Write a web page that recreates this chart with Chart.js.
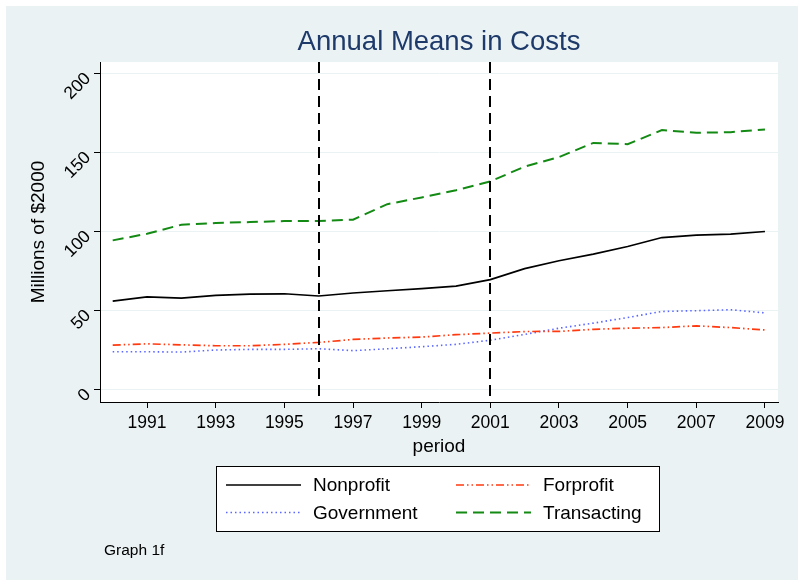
<!DOCTYPE html>
<html>
<head>
<meta charset="utf-8">
<script src="https://cdn.jsdelivr.net/npm/chart.js@4.4.0/dist/chart.umd.min.js"></script>
<style>
html,body{margin:0;padding:0;background:#fff;}
#wrap{width:798px;height:580px;}
</style>
</head>
<body>
<div id="wrap"><canvas id="c" width="798" height="580"></canvas></div>
<script>
/* ---------- data ---------- */
const years = [1990,1991,1992,1993,1994,1995,1996,1997,1998,1999,2000,2001,2002,2003,2004,2005,2006,2007,2008,2009];
const nonprofit   = [55.7,58.3,57.6,59.3,60.1,60.3,58.9,60.8,62.2,63.6,65.2,69.3,76.2,81.2,85.4,90.2,95.9,97.4,98.0,99.7];
const forprofit   = [27.8,28.6,28.0,27.4,27.4,28.3,29.5,31.4,32.3,32.9,34.4,35.4,36.4,36.5,37.8,38.5,38.9,40.0,38.9,37.4];
const government  = [23.6,23.6,23.4,24.7,25.1,25.1,25.5,24.3,25.5,26.8,28.3,30.9,34.6,38.5,41.7,45.3,49.1,49.6,50.2,48.2];
const transacting = [94.1,98.3,104.0,105.1,105.7,106.3,106.3,107.2,117.0,121.3,125.8,131.4,140.8,146.8,155.8,155.0,163.9,162.2,162.6,164.3];
const seriesNames = ["Nonprofit","Forprofit","Government","Transacting"];
const xTicks = [1991,1993,1995,1997,1999,2001,2003,2005,2007,2009];
const yTicks = [0,50,100,150,200];
const refYears = [1996,2001];

const FONT = '"Liberation Sans", Arial, Helvetica, sans-serif';
const pts = arr => arr.map((v,i)=>({x:years[i],y:v}));

/* ---------- plugins ---------- */
// stata-ish background: light outer region, white plot region
const bgPlugin = {
    id:"bg",
    beforeDraw(chart){
        const {ctx,chartArea:a} = chart;
        ctx.save();
        ctx.fillStyle="#fff";ctx.fillRect(0,0,chart.width,chart.height);
        ctx.fillStyle="#eaf2f3";ctx.fillRect(6,6,chart.width-6,chart.height-6);
        ctx.fillStyle="#fff";ctx.fillRect(a.left,a.top,a.right-a.left,a.bottom-a.top);
        ctx.restore();
    }
};
// dashed vertical lines at the reference years
const refLines = {
    id:"refLines",
    afterDatasetsDraw(chart){
        const {ctx,chartArea:a,scales:{x}} = chart;
        ctx.save();
        ctx.strokeStyle="#000";ctx.lineWidth=2;ctx.setLineDash([11,6]);
        refYears.forEach(yr=>{
            const px=Math.round(x.getPixelForValue(yr));
            ctx.beginPath();ctx.moveTo(px,a.top);ctx.lineTo(px,a.bottom);ctx.stroke();
        });
        ctx.restore();
    }
};
// boxed two-column legend + note under the plot
const boxLegend = {
    id:"boxLegend",
    afterDraw(chart){
        const ctx=chart.ctx;
        ctx.save();
        ctx.fillStyle="#fff";ctx.fillRect(216.5,466.5,443,65);
        ctx.strokeStyle="#000";ctx.lineWidth=1;ctx.strokeRect(216.5,466.5,443,65);
        ctx.font="19px "+FONT;ctx.textBaseline="middle";ctx.textAlign="left";
        chart.data.datasets.forEach((ds,i)=>{
            const col=i%2,row=Math.floor(i/2);
            const x0=col?456:226, y=row?512.5:485;
            ctx.strokeStyle=ds.borderColor;ctx.lineWidth=ds.borderWidth;
            ctx.setLineDash(ds.borderDash||[]);
            ctx.beginPath();ctx.moveTo(x0,y);ctx.lineTo(x0+75,y);ctx.stroke();
            ctx.fillStyle="#000";ctx.fillText(ds.label,x0+87,y+1);
        });
        ctx.setLineDash([]);
        ctx.font="15.5px "+FONT;ctx.fillText("Graph 1f",104,551);
        ctx.restore();
    }
};

/* ---------- chart ---------- */
new Chart(document.getElementById("c"),{
    type:"line",
    data:{datasets:[
        {label:seriesNames[0],data:pts(nonprofit),borderColor:"#000",borderWidth:1.7},
        {label:seriesNames[1],data:pts(forprofit),borderColor:"#ff3a10",borderWidth:1.7,borderDash:[8,3,1.5,3,1.5,3]},
        {label:seriesNames[2],data:pts(government),borderColor:"#5a66ff",borderWidth:1.6,borderDash:[1.5,3]},
        {label:seriesNames[3],data:pts(transacting),borderColor:"#138a13",borderWidth:2,borderDash:[11,6]}
    ]},
    options:{
        responsive:false,animation:false,devicePixelRatio:1,
        elements:{point:{radius:0},line:{tension:0}},
        layout:{padding:{left:0,right:20,top:0,bottom:118}},
        plugins:{
            legend:{display:false},tooltip:{enabled:false},
            title:{display:true,text:"Annual Means in Costs",color:"#1e3a6a",fullSize:false,
                font:{family:FONT,size:27.5,weight:"normal"},padding:{top:25.5,bottom:3.5}}
        },
        scales:{
            x:{type:"linear",min:1989.63,max:2009.38,
                afterBuildTicks:s=>{s.ticks=xTicks.map(v=>({value:v}));},
                afterFit:s=>{s.height=60;},
                grid:{drawOnChartArea:false,tickColor:"#000",tickLength:6},
                border:{color:"#000",width:1},
                ticks:{color:"#000",font:{family:FONT,size:17.5},padding:5,maxRotation:0,autoSkip:false,callback:v=>String(v)},
                title:{display:true,text:"period",color:"#000",font:{family:FONT,size:19},padding:{top:0,bottom:4}}
            },
            y:{min:-8.2,max:207,
                afterBuildTicks:s=>{s.ticks=yTicks.map(v=>({value:v}));},
                afterFit:s=>{s.width=100;},
                grid:{color:"#eaf2f3",tickColor:"#000",tickLength:6},
                border:{color:"#000",width:1},
                ticks:{color:"#000",font:{family:FONT,size:17.5},padding:6,minRotation:45,maxRotation:45,labelOffset:3,autoSkip:false},
                title:{display:true,text:"Millions of $2000",color:"#000",font:{family:FONT,size:19},padding:{top:27.6,bottom:0}}
            }
        }
    },
    plugins:[bgPlugin,refLines,boxLegend]
});
</script>
</body>
</html>
